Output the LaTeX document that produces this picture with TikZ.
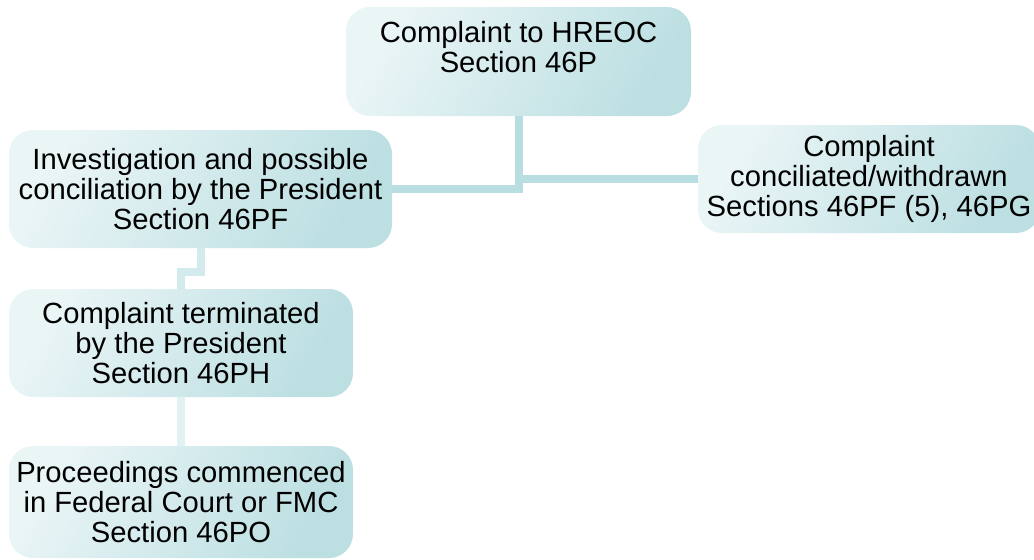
\documentclass[tikz,border=0pt]{standalone}
\usepackage{fontspec}
\setmainfont{Liberation Sans}
\definecolor{boxlight}{HTML}{EAF5F6}
\definecolor{boxdark}{HTML}{BCDFE2}
\definecolor{connmain}{HTML}{B8DEE1}
\definecolor{connlow}{HTML}{D3EBED}
\definecolor{connpale}{HTML}{E2F2F3}
\tikzset{
  stagebox/.style={rectangle, rounded corners=12pt, draw=none,
    left color=boxlight, right color=boxdark, shading angle=60,
    align=center, font=\fontsize{14.6pt}{15pt}\selectfont, text=black,
    inner sep=0pt},
  conn/.style={line width=4pt, draw=connmain},
}
\begin{document}
\begin{tikzpicture}[x=0.5pt, y=-0.5pt]
\useasboundingbox (0,0) rectangle (1034,559);
\clip (0,0) rectangle (1034,559);
\node[stagebox, minimum width=172.5pt, minimum height=54.5pt,
  label={[font=\fontsize{14.6pt}{15pt}\selectfont, align=center, anchor=north, yshift=-4pt]north:Complaint to HREOC\\Section 46P}]
  (top) at (518.5,61.5) {};
\node[stagebox, minimum width=191.5pt, minimum height=59pt] (inv) at (200.5,189)
  {Investigation and possible\\conciliation by the President\\Section 46PF};
\node[stagebox, minimum width=171pt, minimum height=54pt] (conc) at (869,179)
  {Complaint\\conciliated/withdrawn\\Sections 46PF (5), 46PG};
\node[stagebox, minimum width=172pt, minimum height=54pt] (term) at (181,343)
  {Complaint terminated\\by the President\\Section 46PH};
\node[stagebox, minimum width=172pt, minimum height=56pt] (proc) at (181,502)
  {Proceedings commenced\\in Federal Court or FMC\\Section 46PO};
\draw[conn] (top.south) |- (inv.east);
\draw[conn] (top.south) |- (conc.west);
\draw[conn, draw=connlow] (inv.south) -- ++(0,24) -| (term.north);
\draw[conn, draw=connpale] (term.south) -- (proc.north);
\end{tikzpicture}
\end{document}
